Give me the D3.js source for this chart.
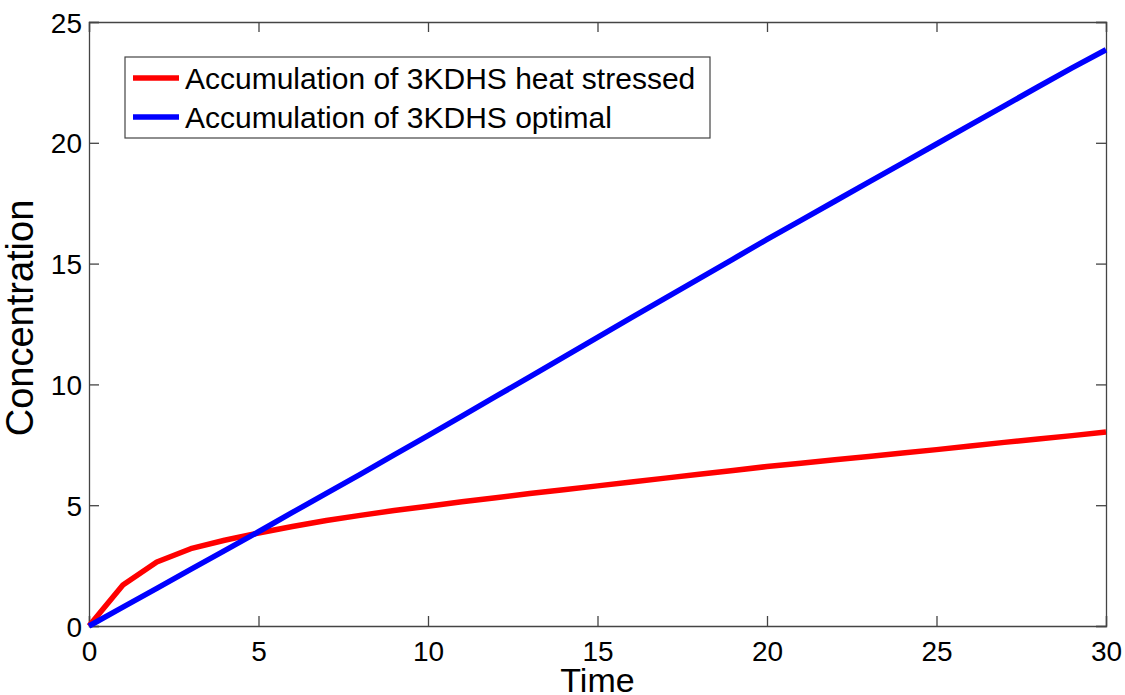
<!DOCTYPE html>
<html>
<head>
<meta charset="utf-8">
<script src="https://cdn.jsdelivr.net/npm/d3@7"></script>
<style>
  body { margin: 0; background: #fff; }
  text { font-family: "Liberation Sans", Arial, sans-serif; fill: #000; }
</style>
</head>
<body>
<svg width="1125" height="695"></svg>
<script>
// time points and the two series
const times = d3.range(0, 31);
const heatStressed = [0, 1.7, 2.65, 3.2, 3.55, 3.85, 4.12, 4.37, 4.58, 4.78, 4.96,
    5.14, 5.31, 5.48, 5.64, 5.8, 5.96, 6.12, 6.28, 6.44, 6.6,
    6.74, 6.88, 7.02, 7.16, 7.3, 7.45, 7.6, 7.74, 7.88, 8.03];
const optimal = [0, 0.78, 1.56, 2.34, 3.12, 3.9, 4.7, 5.49, 6.28, 7.08, 7.88,
    8.69, 9.5, 10.31, 11.13, 11.95, 12.76, 13.57, 14.38, 15.19, 16.0,
    16.79, 17.58, 18.37, 19.16, 19.95, 20.74, 21.53, 22.32, 23.1, 23.85];
const xTicks = [0, 5, 10, 15, 20, 25, 30];
const yTicks = [0, 5, 10, 15, 20, 25];
const seriesNames = ["Accumulation of 3KDHS heat stressed", "Accumulation of 3KDHS optimal"];
const seriesColors = ["#ff0000", "#0000ff"];

const margin = { top: 22, right: 19, bottom: 69, left: 89 },
    width = 1125 - margin.left - margin.right,
    height = 695 - margin.top - margin.bottom;

const svg = d3.select("svg")
    .append("g")
    .attr("transform", `translate(${margin.left},${margin.top})`);

const x = d3.scaleLinear().domain([0, 30]).range([0, width]);
const y = d3.scaleLinear().domain([0, 25]).range([height, 0]);

const axisColor = "#444";
const tickLen = 10;

// box-style axes with inward ticks on every side
const bottomAxis = svg.append("g")
    .attr("transform", `translate(0,${height})`)
    .call(d3.axisBottom(x).tickValues(xTicks).tickSize(-tickLen).tickPadding(15));
const topAxis = svg.append("g")
    .call(d3.axisTop(x).tickValues(xTicks).tickSize(-tickLen).tickFormat(""));
const leftAxis = svg.append("g")
    .call(d3.axisLeft(y).tickValues(yTicks).tickSize(-tickLen).tickPadding(7));
const rightAxis = svg.append("g")
    .attr("transform", `translate(${width},0)`)
    .call(d3.axisRight(y).tickValues(yTicks).tickSize(-tickLen).tickFormat(""));

[bottomAxis, topAxis, leftAxis, rightAxis].forEach(g => {
    g.select(".domain").attr("stroke", axisColor).attr("stroke-width", 1.3);
    g.selectAll(".tick line").attr("stroke", axisColor).attr("stroke-width", 1.3);
    g.selectAll(".tick text")
        .attr("font-family", "Liberation Sans, Arial, sans-serif")
        .attr("font-size", 28)
        .attr("fill", "#000");
});
leftAxis.selectAll(".tick text").attr("dy", "0.36em");

// lines
const line = d3.line()
    .x((d, i) => x(times[i]))
    .y(d => y(d));

[heatStressed, optimal].forEach((values, i) => {
    svg.append("path")
        .datum(values)
        .attr("fill", "none")
        .attr("stroke", seriesColors[i])
        .attr("stroke-width", 5.5)
        .attr("stroke-linejoin", "round")
        .attr("d", line);
});

// axis titles
svg.append("text")
    .attr("x", width / 2)
    .attr("y", height + 66)
    .attr("text-anchor", "middle")
    .attr("font-size", 34)
    .text("Time");

svg.append("text")
    .attr("transform", `translate(${-56},${318 - margin.top}) rotate(-90)`)
    .attr("text-anchor", "middle")
    .attr("font-size", 38)
    .text("Concentration");

// legend
const legend = svg.append("g")
    .attr("transform", `translate(${125 - margin.left},${57 - margin.top})`);

legend.append("rect")
    .attr("width", 585)
    .attr("height", 81)
    .attr("fill", "#fff")
    .attr("stroke", axisColor)
    .attr("stroke-width", 1.2);

seriesNames.forEach((name, i) => {
    const row = legend.append("g")
        .attr("transform", `translate(0,${21 + i * 39})`);
    row.append("line")
        .attr("x1", 8).attr("x2", 54)
        .attr("stroke", seriesColors[i])
        .attr("stroke-width", 5.5);
    row.append("text")
        .attr("x", 60)
        .attr("dy", "0.36em")
        .attr("font-size", 30)
        .text(name);
});
</script>
</body>
</html>
